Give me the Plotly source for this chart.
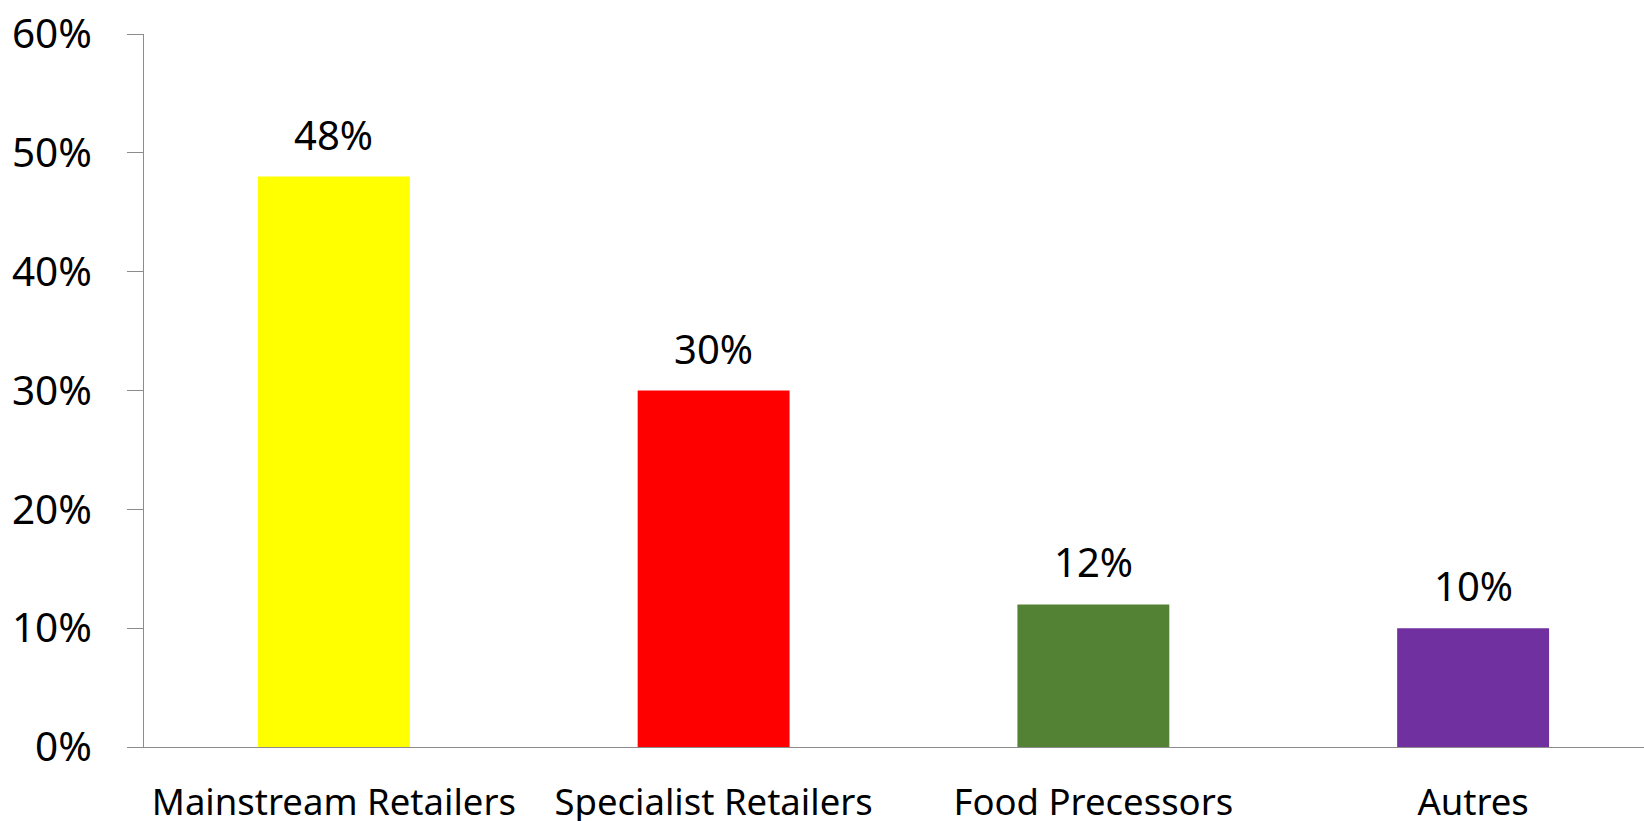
import plotly.graph_objects as go

categories = ["Mainstream Retailers", "Specialist Retailers", "Food Precessors", "Autres"]
values = [48, 30, 12, 10]
colors = ["#FFFF00", "#FF0000", "#548235", "#7030A0"]
value_labels = ["48%", "30%", "12%", "10%"]
y_ticks = [0, 10, 20, 30, 40, 50, 60]
y_tick_text = ["0%", "10%", "20%", "30%", "40%", "50%", "60%"]

FONT = "Noto Sans"

fig = go.Figure()
fig.add_trace(go.Bar(
    x=categories,
    y=values,
    marker=dict(color=colors, line=dict(width=0)),
    width=0.4,
    hoverinfo="x+y",
))

for c, v, t in zip(categories, values, value_labels):
    fig.add_annotation(
        x=c, y=v, text=t, showarrow=False,
        yanchor="bottom", yshift=13,
        font=dict(family=FONT, size=40, color="#000000"),
    )

fig.update_layout(
    width=1644, height=821,
    margin=dict(l=144, r=0, t=34, b=74, pad=0, autoexpand=False),
    paper_bgcolor="white", plot_bgcolor="white",
    showlegend=False,
    font=dict(family=FONT, color="#000000"),
)
fig.update_xaxes(
    range=[-0.5, 3.45], automargin=False,
    showline=True, linecolor="#8c8c8c", linewidth=1,
    showgrid=False, ticks="",
    tickfont=dict(family=FONT, size=36.5, color="#000000"),
    ticklabelstandoff=23,
)
fig.update_yaxes(
    range=[0, 60], tickvals=y_ticks, ticktext=y_tick_text, automargin=False,
    showline=True, linecolor="#8c8c8c", linewidth=1,
    showgrid=False, ticks="outside", ticklen=16, tickcolor="#8c8c8c",
    tickfont=dict(family=FONT, size=40.5, color="#000000"),
    ticklabelstandoff=27, zeroline=False,
)

fig.write_html(
    "out.html",
    config={"displayModeBar": False},
    post_script="document.body.style.margin='0';document.body.style.overflow='hidden';",
)
